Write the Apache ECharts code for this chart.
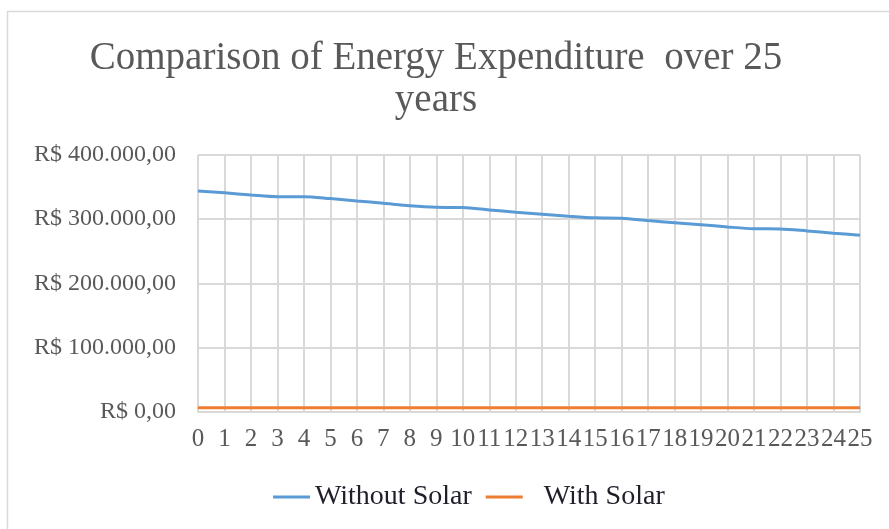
<!DOCTYPE html>
<html>
<head>
<meta charset="utf-8">
<script src="https://cdn.jsdelivr.net/npm/echarts@6/dist/echarts.min.js"></script>
<style>
html,body{margin:0;padding:0;background:#fff;}
#chart{width:889px;height:529px;}
</style>
</head>
<body>
<div id="chart"></div>
<script>
const years = ['0','1','2','3','4','5','6','7','8','9','10','11','12','13','14','15','16','17','18','19','20','21','22','23','24','25'];
const withoutSolar = [344000,341000,337700,335000,335000,332000,328400,324800,321000,318500,318000,314400,310800,307600,304500,302000,301400,297700,294500,291400,287800,285000,284700,281600,278000,274900];
const withSolar = [6000,6000,6000,6000,6000,6000,6000,6000,6000,6000,6000,6000,6000,6000,6000,6000,6000,6000,6000,6000,6000,6000,6000,6000,6000,6000];
const seriesNames = ['Without Solar','With Solar'];
const titleText = 'Comparison of Energy Expenditure  over 25\nyears';

function brl(v){
  const s = Math.round(v).toString().replace(/\B(?=(\d{3})+(?!\d))/g,'.');
  return 'R$ ' + s + ',00';
}

const chart = echarts.init(document.getElementById('chart'), null, {renderer:'canvas'});
const serif = '"Liberation Serif", "DejaVu Serif", serif';
chart.setOption({
  backgroundColor:'#fff',
  animation:false,
  graphic:[{
    type:'rect', left:5, top:9, shape:{width:900, height:540},
    style:{fill:'none', stroke:'#d9d9d9', lineWidth:1.5}, silent:true
  }],
  title:{
    text:titleText,
    left:431, top:33, textAlign:'center',
    textStyle:{fontFamily:serif, fontSize:39, fontWeight:'normal', color:'#595959', lineHeight:42}
  },
  legend:{
    left:268, top:478,
    itemWidth:37, itemHeight:3, itemGap:14, icon:'rect',
    textStyle:{fontFamily:serif, fontSize:28, color:'#1f1f2a'},
    data:[
      {name:seriesNames[0]},
      {name:seriesNames[1], textStyle:{padding:[0,0,0,16]}}
    ]
  },
  grid:{left:198, right:29, top:155, bottom:117.5, containLabel:false},
  xAxis:{
    type:'category', data:years, boundaryGap:false,
    axisLine:{lineStyle:{color:'#d9d9d9', width:2}},
    axisTick:{show:false},
    splitLine:{show:true, lineStyle:{color:'#d9d9d9', width:2}},
    axisLabel:{interval:0, margin:15, fontFamily:serif, fontSize:25, color:'#595959'}
  },
  yAxis:{
    type:'value', min:0, max:400000, interval:100000,
    axisLine:{show:false}, axisTick:{show:false},
    splitLine:{lineStyle:{color:'#d9d9d9', width:2}},
    axisLabel:{margin:22, fontFamily:serif, fontSize:24, color:'#595959', formatter:brl}
  },
  series:[
    {name:seriesNames[0], type:'line', data:withoutSolar, smooth:0.3, showSymbol:false,
     lineStyle:{color:'#5b9bd5', width:3}, itemStyle:{color:'#5b9bd5'}},
    {name:seriesNames[1], type:'line', data:withSolar, smooth:false, showSymbol:false,
     lineStyle:{color:'#ed7d31', width:3}, itemStyle:{color:'#ed7d31'}}
  ]
});
</script>
</body>
</html>
